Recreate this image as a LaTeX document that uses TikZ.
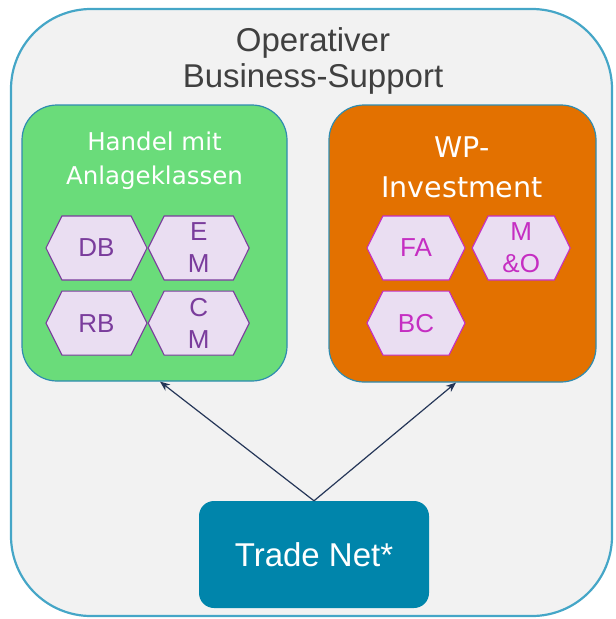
\documentclass[tikz,border=0pt]{standalone}
\usepackage{fontspec}
\setmainfont{Liberation Sans}
\newfontfamily\groupfont{DejaVu Sans}
\usepackage{tikz}
\usetikzlibrary{positioning,shapes.symbols,arrows.meta}
\usepackage{xcolor}
\definecolor{bggray}{HTML}{F2F2F2}
\definecolor{outerblue}{HTML}{45A6C7}
\definecolor{boxline}{HTML}{2F8CB0}
\definecolor{handelgreen}{HTML}{6ADC7A}
\definecolor{wporange}{HTML}{E37100}
\definecolor{hexfill}{HTML}{EADEF2}
\definecolor{hexpurple}{HTML}{7A3C9C}
\definecolor{hexmagenta}{HTML}{C52EC2}
\definecolor{tradeblue}{HTML}{0085AB}
\definecolor{arrownavy}{HTML}{253658}
\definecolor{titlegray}{HTML}{404040}

\begin{document}
\begin{tikzpicture}[x=1pt,y=-1pt,
  outerbox/.style={draw=outerblue,line width=2.2pt,fill=bggray,rounded corners=80pt},
  groupbox/.style={draw=boxline,line width=1.2pt,rounded corners=35pt,inner sep=0pt},
  grouptext/.style={text=white,align=center,inner sep=0pt},
  hexa/.style={shape=signal,signal to=west and east,signal pointer angle=127,
    fill=hexfill,line width=1.1pt,minimum height=64pt,
    inner sep=0pt,align=center,font=\fontsize{26}{32}\selectfont},
  hexleft/.style={hexa,minimum width=101pt,draw=hexpurple,text=hexpurple},
  hexright/.style={hexa,minimum width=98pt,draw=hexmagenta,text=hexmagenta},
  flowarrow/.style={draw=arrownavy,line width=1.2pt,-{Stealth[length=10pt,width=8pt]}}]
  \useasboundingbox (0,0) rectangle (616,619);

  % Draw outer frame and its title
  \draw[outerbox] (11,9) rectangle (612,616);
  \node[text=titlegray,align=center,inner sep=0pt,font=\fontsize{33}{36}\selectfont] (title) at (313,61) {Operativer\\Business-Support};

  % Handel mit Anlageklassen
  \node[groupbox,fill=handelgreen,minimum width=265pt,minimum height=276pt] (handel) at (154.5,243) {};
  \node[grouptext,font=\groupfont\fontsize{24.5}{34}\selectfont] (handeltitle) at (154.5,161) {Handel mit\\Anlageklassen};
  \node[hexleft] (db) at (96.5,248) {DB};
  \node[hexleft,right=0pt of db] (em) {E\\M};
  \node[hexleft,below=10pt of db] (rb) {RB};
  \node[hexleft,right=0pt of rb] (cm) {C\\M};

  % WP-Investment
  \node[groupbox,fill=wporange,minimum width=267pt,minimum height=277pt] (wp) at (462.5,243.5) {};
  \node[grouptext,font=\groupfont\fontsize{28.5}{40}\selectfont] (wptitle) at (462,167) {WP-\\Investment};
  \node[hexright] (fa) at (416,248) {FA};
  \node[hexright,right=6pt of fa] (mo) {M\\\&O};
  \node[hexright,below=10pt of fa] (bc) {BC};

  % Trade Net and arrows
  \node[fill=tradeblue,rounded corners=15pt,minimum width=230pt,minimum height=107pt,
    text=white,font=\fontsize{33}{38}\selectfont] (tn) at (314,554.5) {Trade Net*};
  \draw[flowarrow] (tn.north) -- ([xshift=5.5pt]handel.south);
  \draw[flowarrow] (tn.north) -- ([xshift=-6.5pt]wp.south);
\end{tikzpicture}
\end{document}
